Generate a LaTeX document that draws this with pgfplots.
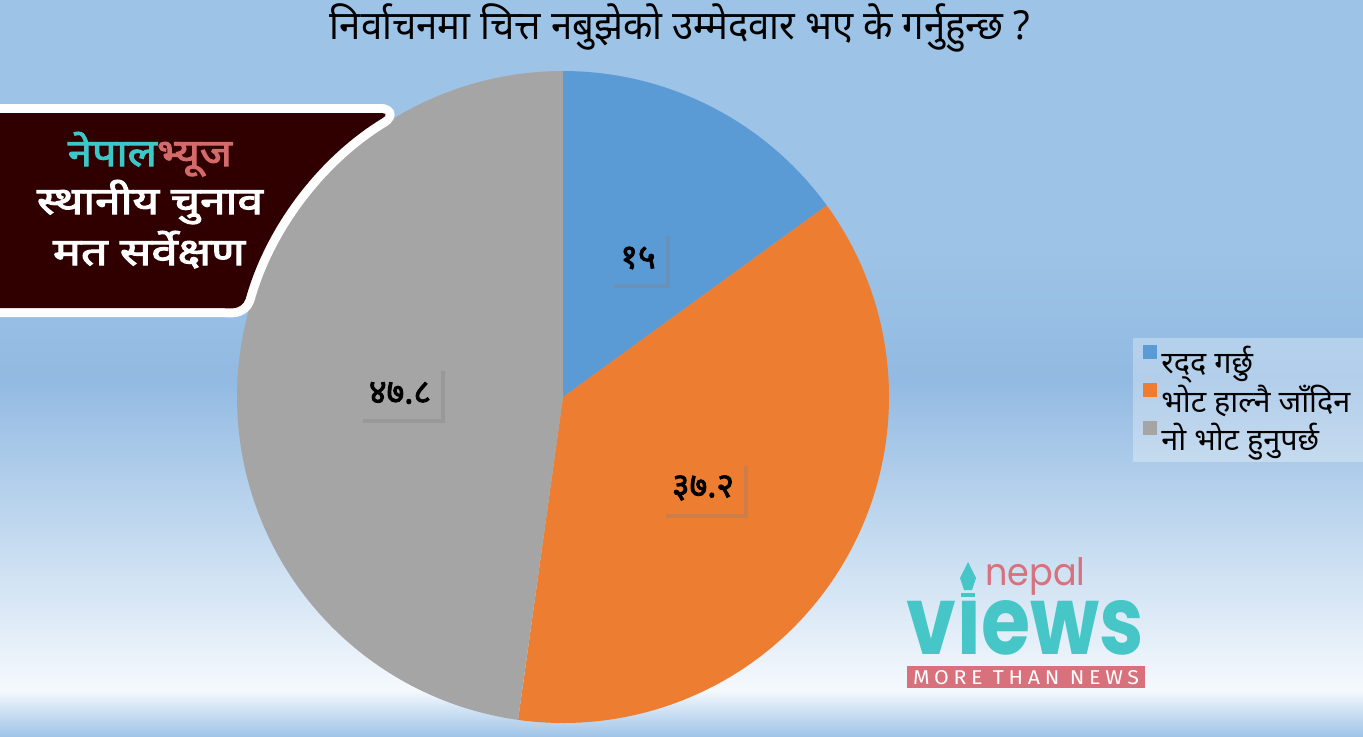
\documentclass[border=0pt]{standalone}
\usepackage{graphicx}
\usepackage{pgfplots}
\pgfplotsset{compat=1.18}
\usepackage{pgfplotstable}
\usepackage{fontspec}
\usetikzlibrary{shadows}
\setmainfont{Noto Sans}[Script=Devanagari, AutoFakeBold=2.6]
\newfontfamily\devbold{Noto Sans}[Script=Devanagari, FakeBold=2.6]
\newfontfamily\latinfont{Poppins}
\newfontfamily\capsfont{Fira Sans}[LetterSpace=22]

\definecolor{pieblue}{HTML}{5B9BD5}
\definecolor{pieorange}{HTML}{ED7D31}
\definecolor{piegray}{HTML}{A5A5A5}
\definecolor{bgblue}{HTML}{9DC3E6}
\definecolor{boxmaroon}{HTML}{300000}
\definecolor{tealc}{HTML}{3CC8C8}
\definecolor{salmonc}{HTML}{D46A6A}
\definecolor{logoteal}{HTML}{47C6C8}
\definecolor{logopink}{HTML}{D8717C}

\pgfplotstableread{
value
15
37.2
47.8
}\piedata

\begin{document}
\begin{tikzpicture}
\pgfplotstablegetelem{0}{value}\of\piedata \let\va\pgfplotsretval
\pgfplotstablegetelem{1}{value}\of\piedata \let\vb\pgfplotsretval
\pgfplotstablegetelem{2}{value}\of\piedata \let\vc\pgfplotsretval
\pgfmathsetmacro\azero{90}
\pgfmathsetmacro\aone{\azero-3.6*\va}
\pgfmathsetmacro\atwo{\aone-3.6*\vb}
\pgfmathsetmacro\athree{\atwo-3.6*\vc}
\begin{axis}[
  width=681.5pt, height=368pt, scale only axis,
  xmin=0, xmax=1363, ymin=0, ymax=736, y dir=reverse,
  hide axis, clip=false,
  legend cell align=left,
  legend image code/.code={\fill[#1, fill opacity=1] (0pt,1.5pt) rectangle (7pt,8.5pt);},
  legend style={at={(axis cs:1133,338)}, anchor=north west,
    fill=white, fill opacity=0.3, text opacity=1, draw=none,
    font=\fontsize{15.3}{17}\selectfont, row sep=0pt,
    inner xsep=5pt, inner ysep=2pt},
]
% background
\fill[bgblue] (axis cs:0,0) rectangle (axis cs:1363,350);
\shade[top color=bgblue, bottom color={rgb,255:red,146;green,186;blue,226}] (axis cs:0,250) rectangle (axis cs:1363,380);
\shade[top color={rgb,255:red,146;green,186;blue,226}, bottom color={rgb,255:red,197;green,219;blue,240}] (axis cs:0,379) rectangle (axis cs:1363,541);
\shade[top color={rgb,255:red,197;green,219;blue,240}, bottom color={rgb,255:red,245;green,249;blue,253}] (axis cs:0,540) rectangle (axis cs:1363,691);
\shade[top color={rgb,255:red,245;green,249;blue,253}, bottom color={rgb,255:red,160;green,196;blue,232}] (axis cs:0,690) rectangle (axis cs:1363,736);

% pie
\addplot[fill=pieblue, draw=none, domain=\aone:\azero, samples=90]
  ({563+326*cos(x)},{397-326*sin(x)}) -- (axis cs:563,397) -- cycle;
\addlegendentry{रद्‌द गर्छु}
\addplot[fill=pieorange, draw=none, domain=\atwo:\aone, samples=150]
  ({563+326*cos(x)},{397-326*sin(x)}) -- (axis cs:563,397) -- cycle;
\addlegendentry{भोट हाल्नै जाँदिन}
\addplot[fill=piegray, draw=none, domain=\athree:\atwo, samples=180]
  ({563+326*cos(x)},{397-326*sin(x)}) -- (axis cs:563,397) -- cycle;
\addlegendentry{नो भोट हुनुपर्छ}

% data labels
\tikzset{dlab/.style={minimum height=26pt, inner xsep=5pt, anchor=center,
  font=\devbold\fontsize{17}{20}\selectfont, text=black,
  drop shadow={shadow xshift=2pt, shadow yshift=-2pt, opacity=0.3}}}
\node[dlab, fill=pieblue] at (axis cs:638,258) {१५};
\node[dlab, fill=pieorange] at (axis cs:703,488) {३७.२};
\node[dlab, fill=piegray] at (axis cs:400,393) {४७.८};

% title
\node[anchor=base, inner sep=0pt, font=\fontsize{20}{24}\selectfont] at (axis cs:680,39)
  {\resizebox{350pt}{\height}{निर्वाचनमा चित्त नबुझेको उम्मेदवार भए के गर्नुहुन्छ ?}};

% banner box
\fill[boxmaroon, rounded corners=5pt, preaction={draw=white, line width=9pt, line join=round}]
  (axis cs:-30,113) -- (axis cs:391,113) arc[start angle=121.2, end angle=164.5, radius=166pt]
  -- (axis cs:-30,308) -- cycle;
\node[anchor=base, inner sep=0pt, font=\devbold\fontsize{19}{22}\selectfont] at (axis cs:150,166)
  {\resizebox{82pt}{\height}{\textcolor{tealc}{नेपाल}\textcolor{salmonc}{भ्यूज}}};
\node[anchor=base, inner sep=0pt, font=\devbold\fontsize{19}{22}\selectfont, text=white] at (axis cs:150,214)
  {\resizebox{113pt}{\height}{स्थानीय चुनाव}};
\node[anchor=base, inner sep=0pt, font=\devbold\fontsize{19}{22}\selectfont, text=white] at (axis cs:149,265)
  {\resizebox{96pt}{\height}{मत सर्वेक्षण}};

% logo
\node[anchor=base west, inner sep=0pt] at (axis cs:985,585)
  {\resizebox{50pt}{14pt}{\color{logopink}\latinfont nepal}};
\node[anchor=base west, inner sep=0pt] at (axis cs:906,654)
  {\resizebox{119pt}{27pt}{\color{logoteal}\latinfont\bfseries vıews}};
\fill[logoteal] (axis cs:968,562) -- (axis cs:976,578) -- (axis cs:972,590) -- (axis cs:964,590) -- (axis cs:960,578) -- cycle;
\fill[logoteal] (axis cs:961,593) rectangle (axis cs:975,597);
\fill[logopink] (axis cs:907,666) rectangle (axis cs:1145,688);
\node[anchor=center, inner sep=0pt, text=white] at (axis cs:1026,678)
  {\resizebox{113pt}{\height}{\capsfont\fontsize{10}{12}\selectfont MORE THAN NEWS}};
\end{axis}
\pgfresetboundingbox
\path (0,0) rectangle (681.5pt,368pt);
\end{tikzpicture}
\end{document}
